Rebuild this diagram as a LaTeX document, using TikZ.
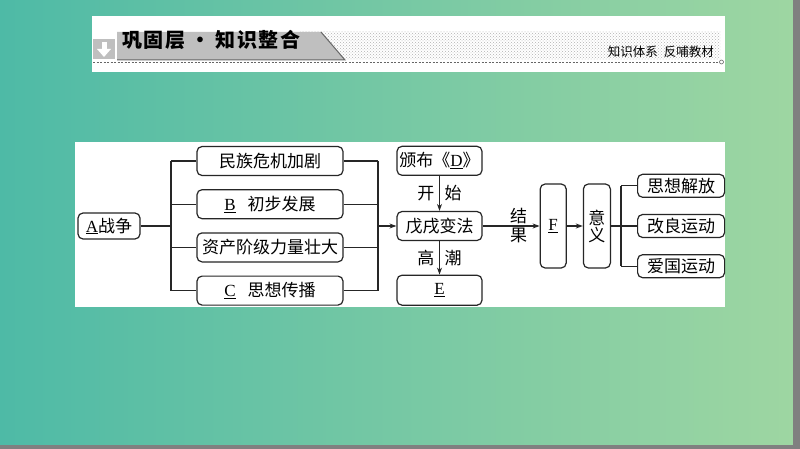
\documentclass[tikz,border=0pt]{standalone}
\usepackage{fontspec}
\setmainfont{Liberation Serif}
\newfontfamily\cjk{Noto Sans CJK SC}
\usetikzlibrary{positioning,arrows.meta,patterns}

\definecolor{tealleft}{RGB}{78,186,166}
\definecolor{greenright}{RGB}{158,214,162}

\newcommand{\blank}[1]{{\rmfamily\underline{#1}}}

\tikzset{
  box/.style={draw=black!85, line width=1.2pt, rounded corners=5pt,
    minimum height=29pt, inner sep=2pt, font=\cjk\fontsize{17}{18}\selectfont},
  conn/.style={draw=black!85, line width=1.1pt},
  arr/.style={conn, -{Stealth[length=7pt,width=5pt]}},
  lab/.style={font=\cjk\fontsize{17}{18}\selectfont, inner sep=1.5pt},
}

\begin{document}
\begin{tikzpicture}[x=1pt, y=-1pt]

		\useasboundingbox (0,0) rectangle (800,449);

		% Background
		\shade[left color=tealleft, right color=greenright] (0,0) rectangle (793,445);
		\fill[black!50] (793,0) rectangle (800,449);
		\fill[black!50] (0,445) rectangle (800,449);
		\fill[white] (92,16) rectangle (725,72);
		\fill[white] (75,142) rectangle (725,307);

		% Header
		\fill[pattern=crosshatch dots, pattern color=black!30] (300,32) rectangle (720,60);
		\fill[black!25] (117,32) -- (321,32) -- (345,60) -- (117,60) -- cycle;
		\draw[black!60, line width=1pt] (321,32) -- (345,60) -- (117,60);
		\fill[black!25] (93,39) rectangle (115,59);
		\fill[white] (101.5,42) rectangle (106.5,50);
		\fill[white] (97,49) -- (111,49) -- (104,57) -- cycle;
		\node[font=\cjk\bfseries\fontsize{20}{22}\selectfont\addfontfeature{LetterSpace=8},
			anchor=west, inner sep=0pt] (title) at (122,40)
			{巩固层\hspace{5pt}·\hspace{5pt}知识整合};
		\draw[black!60, dash pattern=on 2pt off 1.5pt, line width=0.8pt] (93,62) -- (719,62);
		\draw[black!60, line width=0.6pt] (721.5,62) circle (2);
		\node[font=\cjk\fontsize{12.5}{14}\selectfont, anchor=east, inner sep=0pt] (motto) at (714,52)
			{知识体系\hspace{6pt}反哺教材};

		% Define nodes
		\node[box, minimum width=62pt, minimum height=26pt] (war) at (109,226) {\blank{A}战争};
		\node[box, minimum width=146pt] (crisis) at (270,161) {民族危机加剧};
		\node[box, minimum width=146pt, below=13pt of crisis] (growth) {\blank{B}\hspace{12pt}初步发展};
		\node[box, minimum width=146pt, below=13pt of growth] (bourgeois) {资产阶级力量壮大};
		\node[box, minimum width=146pt, below=13pt of bourgeois] (ideas) {\blank{C}\hspace{12pt}思想传播};
		\node[box, minimum width=85pt] (reform) at (439.5,226) {戊戌变法};
		\node[box, minimum width=85pt, above=35pt of reform] (decree) {颁布《\blank{D}》};
		\node[box, minimum width=85pt, minimum height=30pt, below=33.5pt of reform] (climax) {\blank{E}};
		\node[box, minimum width=26pt, minimum height=84pt, right=57pt of reform] (result) {\blank{F}};
		\node[box, minimum width=27pt, minimum height=84pt, right=16pt of result, align=center,
			font=\cjk\fontsize{17}{17}\selectfont] (meaning) {意\\义};
		\node[box, minimum width=87pt, minimum height=23pt, right=26pt of meaning] (reformist) {改良运动};
		\node[box, minimum width=87pt, minimum height=23pt, above=16pt of reformist] (liberty) {思想解放};
		\node[box, minimum width=87pt, minimum height=23pt, below=16pt of reformist] (patriot) {爱国运动};

		\coordinate (lbar) at (171,226);
		\coordinate (rbar) at (378,226);
		\coordinate (mbar) at (621,226);

		% Connect the nodes
		\draw[conn] (war) -- (lbar);
		\draw[conn] (lbar |- crisis) -- (lbar |- ideas);
		\foreach \n in {crisis,growth,bourgeois,ideas} {
			\draw[conn] (lbar |- \n) -- (\n.west);
			\draw[conn] (\n.east) -- (rbar |- \n);
		}
		\draw[conn] (rbar |- crisis) -- (rbar |- ideas);
		\draw[arr] (rbar |- reform) -- (reform);
		\draw[arr] (decree) -- node[lab, left=3pt] {开} node[lab, right=3pt] {始} (reform);
		\draw[arr] (reform) -- node[lab, left=3pt] {高} node[lab, right=3pt] {潮} (climax);
		\draw[arr] (reform) -- node[lab, pos=0.63, above] {结} node[lab, pos=0.63, below] {果} (result);
		\draw[arr] (result) -- (meaning);
		\draw[conn] (meaning) -- (mbar |- meaning);
		\draw[conn] (mbar |- liberty) -- (mbar |- patriot);
		\foreach \n in {liberty,reformist,patriot} {
			\draw[conn] (mbar |- \n) -- (\n.west);
		}

\end{tikzpicture}
\end{document}
